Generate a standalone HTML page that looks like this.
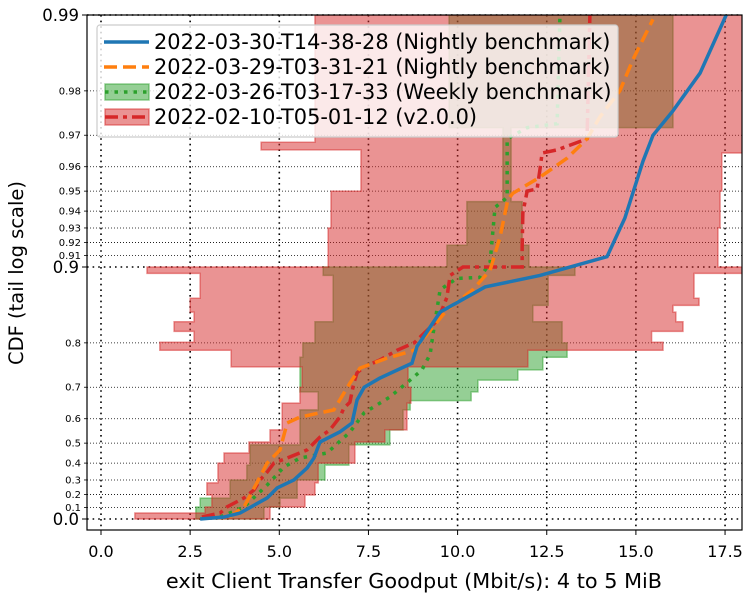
<!DOCTYPE html>
<html><head><meta charset="utf-8"><style>
html,body{margin:0;padding:0;background:#fff;}
svg{display:block;font-family:"DejaVu Sans","Liberation Sans",sans-serif;}
</style></head><body>
<svg id="chart" width="750" height="600" viewBox="0 0 750 600" xmlns="http://www.w3.org/2000/svg">
<defs><clipPath id="plotclip"><rect x="87" y="15" width="655" height="515"/></clipPath></defs>
<rect x="0" y="0" width="750" height="600" fill="#fff"/>
<g id="grid"></g>
<g id="bands" clip-path="url(#plotclip)"></g>
<g id="lines" clip-path="url(#plotclip)"></g>
<g id="axes"></g>
<text x="414" y="588" font-size="20.8" text-anchor="middle">exit Client Transfer Goodput (Mbit/s): 4 to 5 MiB</text>
<text transform="translate(23,273) rotate(-90)" font-size="19.5" text-anchor="middle">CDF (tail log scale)</text>
<g id="legend">
<rect x="97" y="25" width="521" height="112" rx="3" fill="#fff" fill-opacity="0.8" stroke="#ccc" stroke-width="1.2"/>
<line x1="104" y1="42" x2="149" y2="42" stroke="#1f77b4" stroke-width="3.5"/>
<text x="154" y="49" font-size="20.9">2022-03-30-T14-38-28 (Nightly benchmark)</text>
<line x1="104" y1="67" x2="149" y2="67" stroke="#ff7f0e" stroke-width="3.5" stroke-dasharray="13,6"/>
<text x="154" y="74" font-size="20.9">2022-03-29-T03-31-21 (Nightly benchmark)</text>
<rect x="105" y="84" width="44" height="16" fill="#2ca02c" fill-opacity="0.5" stroke="#2ca02c" stroke-opacity="0.5" stroke-width="1.5"/>
<line x1="105" y1="92" x2="149" y2="92" stroke="#2ca02c" stroke-width="3.5" stroke-dasharray="3.5,6"/>
<text x="154" y="99" font-size="20.9">2022-03-26-T03-17-33 (Weekly benchmark)</text>
<rect x="105" y="109" width="44" height="16" fill="#d62728" fill-opacity="0.5" stroke="#d62728" stroke-opacity="0.5" stroke-width="1.5"/>
<line x1="105" y1="117" x2="149" y2="117" stroke="#d62728" stroke-width="3.5" stroke-dasharray="13,5,4,5"/>
<text x="154" y="124" font-size="20.9">2022-02-10-T05-01-12 (v2.0.0)</text>
</g>
</svg>
<script>
// ---- data ----
const xTicks = [0, 2.5, 5, 7.5, 10, 12.5, 15, 17.5];
const xTickLabels = ["0.0","2.5","5.0","7.5","10.0","12.5","15.0","17.5"];
const yMajor = [0, 0.9, 0.99];
const yMajorLabels = ["0.0","0.9","0.99"];
const yMinor = [0.1,0.2,0.3,0.4,0.5,0.6,0.7,0.8,0.91,0.92,0.93,0.94,0.95,0.96,0.97,0.98];
const yMinorLabels = ["0.1","0.2","0.3","0.4","0.5","0.6","0.7","0.8","0.91","0.92","0.93","0.94","0.95","0.96","0.97","0.98"];

const redEdges = [0.99,0.968,0.9657,0.9647,0.95,0.93,0.9,0.894,0.867,0.858,0.849,0.835,0.820,0.801,0.786,0.751,0.700,0.653,0.557,0.505,0.453,0.400,0.281,0.197,0.104,0.053,0];
const redLo = [6.00,4.49,7.29,7.29,6.45,6.37,1.29,2.78,2.50,2.50,2.61,2.05,2.61,1.65,3.65,5.64,5.58,5.08,4.74,4.15,3.45,3.28,2.97,3.11,2.92,0.95];
const redHi = [18.5,18.5,18.5,17.41,17.36,17.30,18.5,16.63,16.77,16.04,16.12,16.32,15.44,15.76,11.97,8.61,8.69,8.58,7.96,7.12,7.12,6.09,6.00,5.72,4.74,4.74];

const greenEdges = [0.99,0.972,0.945,0.918,0.9,0.892,0.858,0.835,0.80,0.772,0.744,0.719,0.687,0.661,0.631,0.557,0.492,0.389,0.30,0.174,0.104,0];
const greenLo = [9.76,11.27,10.26,9.70,6.23,6.51,6.51,6.00,5.66,5.58,5.58,5.58,6.09,6.09,5.58,5.58,4.18,4.09,3.62,2.78,2.66];
const greenHi = [16.04,11.50,11.81,12.00,13.29,12.54,12.11,12.93,13.07,12.39,11.69,10.57,10.38,8.67,8.47,8.10,6.95,6.28,5.50,5.02,4.57];

const blueX = [2.78,3.45,3.90,4.66,4.94,5.41,5.78,5.97,6.14,6.70,7.04,7.18,7.38,7.82,8.72,8.86,9.51,10.77,12.31,14.19,14.69,15.20,15.48,16.04,16.80,17.56];
const blueP = [0,0.018,0.053,0.175,0.247,0.30,0.373,0.427,0.505,0.549,0.584,0.663,0.700,0.724,0.759,0.793,0.849,0.880,0.892,0.909,0.936,0.962,0.970,0.976,0.983,0.9902];

const orangeX = [3.59,4.01,4.37,4.66,5.02,5.22,5.58,6.53,6.98,7.26,8.02,8.78,9.70,10.43,10.91,11.19,11.41,11.55,12.31,13.07,13.63,13.99,14.55,14.92,15.48];
const orangeP = [0.018,0.104,0.281,0.40,0.468,0.584,0.606,0.631,0.711,0.748,0.770,0.786,0.852,0.877,0.897,0.924,0.946,0.949,0.956,0.963,0.969,0.9746,0.980,0.985,0.9896];

const greenX = [3.34,4.01,4.66,5.13,5.58,6.34,6.98,7.38,8.10,8.67,9.00,9.23,9.31,9.51,9.98,10.63,10.91,11.05,11.39,11.39,11.95,12.79,12.87];
const greenP = [0.018,0.104,0.267,0.378,0.427,0.453,0.548,0.621,0.672,0.719,0.744,0.778,0.815,0.877,0.889,0.890,0.904,0.942,0.947,0.969,0.972,0.973,0.990];

const redX = [2.83,3.34,3.53,4.01,4.29,4.46,4.66,4.85,5.22,5.78,6.14,6.42,6.70,6.81,6.98,7.09,7.18,7.38,7.82,8.30,8.78,9.45,9.70,9.79,10.15,11.81,11.81,11.83,11.95,12.23,12.31,12.37,12.79,13.63,13.71];
const redP = [0.018,0.053,0.104,0.175,0.233,0.30,0.349,0.40,0.427,0.468,0.527,0.557,0.606,0.637,0.656,0.711,0.737,0.751,0.766,0.786,0.800,0.838,0.868,0.892,0.90,0.90,0.916,0.939,0.950,0.951,0.959,0.9647,0.9657,0.969,0.990];

// ---- scales ----
const NS = "http://www.w3.org/2000/svg";
function X(v){ return 101 + v * 35.66; }
function Y(p){ return 519 + 252 * Math.log10(1 - p); }
function mk(tag, attrs, parent){
  const el = document.createElementNS(NS, tag);
  for (const k in attrs) el.setAttribute(k, attrs[k]);
  parent.appendChild(el);
  return el;
}
const grid = document.getElementById('grid');
const axes = document.getElementById('axes');
const bands = document.getElementById('bands');
const lines = document.getElementById('lines');

// grid
xTicks.forEach((v,i)=>{
  const l = mk('line',{x1:X(v),x2:X(v),y1:15,y2:530,stroke:'#000','stroke-width':1.6,'stroke-dasharray':'1.6,4'},grid);
  
  
  const t = mk('line',{x1:X(v),x2:X(v),y1:530,y2:535,stroke:'#000','stroke-width':1},axes);
  
  
  const tx = mk('text',{x:X(v),y:557,'font-size':16,'text-anchor':'middle'},axes);
  tx.textContent = xTickLabels[i];
  
  
});
yMinor.forEach((p,i)=>{
  const l = mk('line',{x1:87,x2:742,y1:Y(p),y2:Y(p),stroke:'#000','stroke-width':0.8,'stroke-dasharray':'1,2'},grid);
  
  
  const t = mk('line',{x1:84,x2:87,y1:Y(p),y2:Y(p),stroke:'#000','stroke-width':0.8},axes);
  
  
  const tx = mk('text',{x:81,y:Y(p)+3.5,'font-size':10,'text-anchor':'end'},axes);
  tx.textContent = yMinorLabels[i];
  
  
});
yMajor.forEach((p,i)=>{
  const l = mk('line',{x1:87,x2:742,y1:Y(p),y2:Y(p),stroke:'#000','stroke-width':1.6,'stroke-dasharray':'1.6,4'},grid);
  
  
  const t = mk('line',{x1:82,x2:87,y1:Y(p),y2:Y(p),stroke:'#000','stroke-width':1},axes);
  
  
  const tx = mk('text',{x:79,y:Y(p)+6,'font-size':16.5,'text-anchor':'end'},axes);
  tx.textContent = yMajorLabels[i];
  
  
});
const frame = mk('rect',{x:87,y:15,width:655,height:515,fill:'none',stroke:'#000','stroke-width':1.2},axes);



// bands
function bandPath(edges, lo, hi){
  let d = 'M' + X(lo[0]) + ',' + Y(edges[0]);
  for (let i=0;i<lo.length;i++){
    d += ' L' + X(lo[i]) + ',' + Y(edges[i]) + ' L' + X(lo[i]) + ',' + Y(edges[i+1]);
  }
  for (let i=hi.length-1;i>=0;i--){
    d += ' L' + X(hi[i]) + ',' + Y(edges[i+1]) + ' L' + X(hi[i]) + ',' + Y(edges[i]);
  }
  return d + ' Z';
}
const gb = mk('path',{d:bandPath(greenEdges,greenLo,greenHi),fill:'#2ca02c','fill-opacity':0.5,stroke:'#2ca02c','stroke-opacity':0.5,'stroke-width':1.5},bands);


const rb = mk('path',{d:bandPath(redEdges,redLo,redHi),fill:'#d62728','fill-opacity':0.5,stroke:'#d62728','stroke-opacity':0.5,'stroke-width':1.5},bands);



// lines
function linePath(xs, ps){
  return xs.map((v,i)=>(i?'L':'M')+X(v)+','+Y(ps[i])).join(' ');
}
const lg = mk('path',{d:linePath(greenX,greenP),fill:'none',stroke:'#2ca02c','stroke-width':3.5,'stroke-dasharray':'3.5,6'},lines);


const lr = mk('path',{d:linePath(redX,redP),fill:'none',stroke:'#d62728','stroke-width':3.5,'stroke-dasharray':'13,5,4,5'},lines);


const lo = mk('path',{d:linePath(orangeX,orangeP),fill:'none',stroke:'#ff7f0e','stroke-width':3.5,'stroke-dasharray':'13,6'},lines);


const lb = mk('path',{d:linePath(blueX,blueP),fill:'none',stroke:'#1f77b4','stroke-width':3.5},lines);


</script>
</body></html>
